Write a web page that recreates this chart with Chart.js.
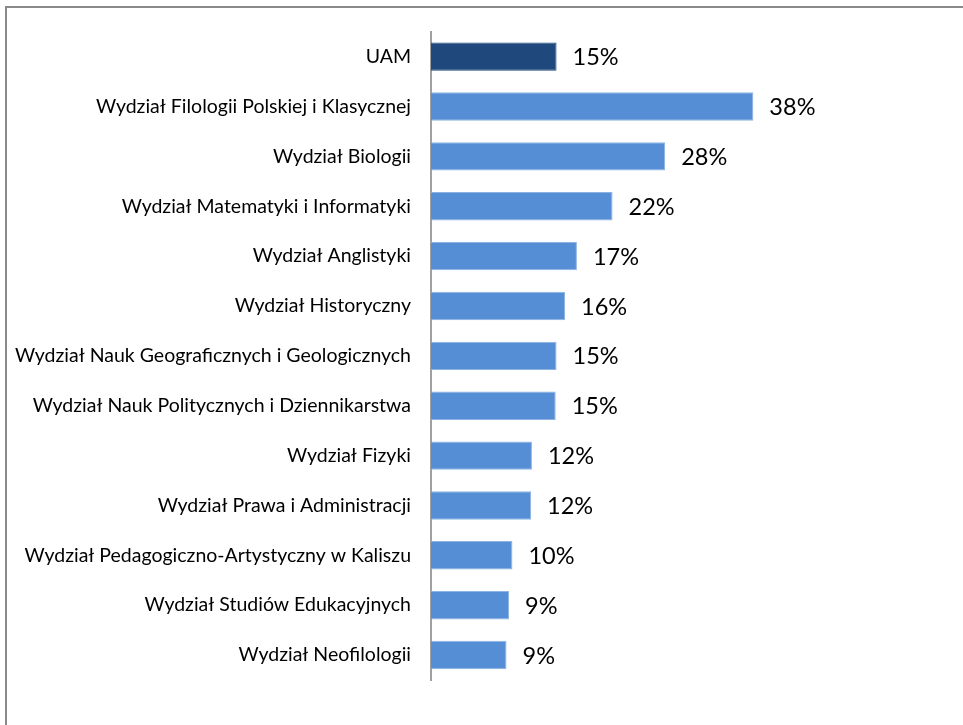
<!DOCTYPE html>
<html>
<head>
<meta charset="utf-8">
<script src="https://cdn.jsdelivr.net/npm/chart.js@4/dist/chart.umd.min.js"></script>
<style>
  html, body { margin: 0; padding: 0; background: #fff; }
  #wrap { position: relative; width: 963px; height: 725px; }
  #ramka { position: absolute; left: 5px; top: 6px; width: 980px; height: 740px;
           border-left: 2px solid #8a8a8a; border-top: 2px solid #8a8a8a; }
  canvas { position: absolute; left: 0; top: 0; }
</style>
</head>
<body>
<div id="wrap">
  <div id="ramka"></div>
  <canvas id="wykres" width="963" height="725"></canvas>
</div>
<script>
// dane
const wydzialy = [
  "UAM",
  "Wydział Filologii Polskiej i Klasycznej",
  "Wydział Biologii",
  "Wydział Matematyki i Informatyki",
  "Wydział Anglistyki",
  "Wydział Historyczny",
  "Wydział Nauk Geograficznych i Geologicznych",
  "Wydział Nauk Politycznych i Dziennikarstwa",
  "Wydział Fizyki",
  "Wydział Prawa i Administracji",
  "Wydział Pedagogiczno-Artystyczny w Kaliszu",
  "Wydział Studiów Edukacyjnych",
  "Wydział Neofilologii"
];
const wartosci = [14.8, 38, 27.6, 21.4, 17.2, 15.8, 14.8, 14.7, 11.9, 11.8, 9.6, 9.2, 8.9];
const etykiety = ["15%", "38%", "28%", "22%", "17%", "16%", "15%", "15%", "12%", "12%", "10%", "9%", "9%"];

const kolorUAM = "#1f497d";
const kolorWydzial = "#558ed5";

// etykiety wartości przy końcach słupków
const etykietyPlugin = {
  id: "etykiety",
  afterDatasetsDraw(chart) {
    const ctx = chart.ctx;
    const meta = chart.getDatasetMeta(0);
    ctx.save();
    ctx.font = "23.5px Lato";
    ctx.fillStyle = "#000";
    ctx.textAlign = "left";
    ctx.textBaseline = "middle";
    meta.data.forEach((bar, i) => {
      ctx.fillText(etykiety[i], bar.x + 16, bar.y + 1);
    });
    ctx.restore();
  }
};

new Chart(document.getElementById("wykres"), {
  type: "bar",
  data: {
    labels: wydzialy,
    datasets: [{
      data: wartosci,
      backgroundColor: wartosci.map((_, i) => i === 0 ? kolorUAM : kolorWydzial),
      borderColor: wartosci.map((_, i) => i === 0 ? kolorUAM : "#8db3e2"),
      borderWidth: 1,
      barPercentage: 0.57,
      categoryPercentage: 1
    }]
  },
  options: {
    indexAxis: "y",
    responsive: false,
    animation: false,
    layout: { padding: { top: 30, bottom: 45, right: 23, left: 0 } },
    plugins: {
      legend: { display: false },
      tooltip: { enabled: false }
    },
    scales: {
      x: { display: false, min: 0, max: 60 },
      y: {
        grid: { display: true, drawOnChartArea: false, drawTicks: false },
        border: { display: true, color: "#a0a0a0", width: 2 },
        ticks: { color: "#000", font: { family: "Lato", size: 19.5 }, padding: 20 },
        afterFit: (s) => { s.width = 431; }
      }
    }
  },
  plugins: [etykietyPlugin]
});
</script>
</body>
</html>
